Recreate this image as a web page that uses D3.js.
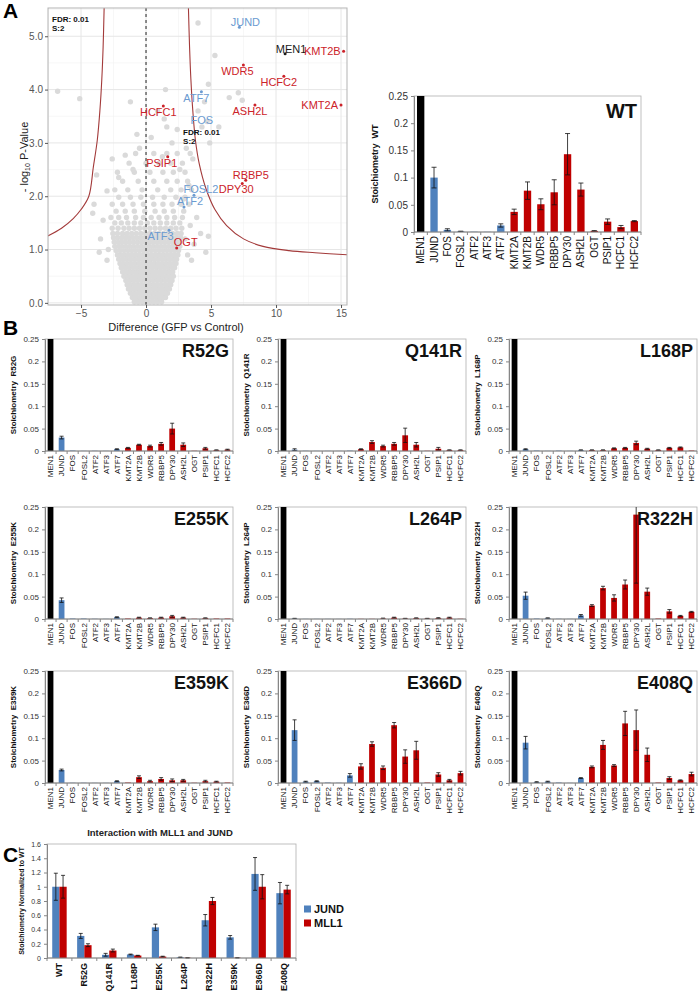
<!DOCTYPE html>
<html><head><meta charset="utf-8">
<script src="https://cdn.jsdelivr.net/npm/d3@7/dist/d3.min.js"></script>
<style>body{margin:0;background:#fff}svg{display:block;font-family:"Liberation Sans",Arial,sans-serif}</style>
</head><body><svg id="c" width="698" height="992"></svg>
<script>
// ---------------- DATA ----------------
const genes = ["MEN1","JUND","FOS","FOSL2","ATF2","ATF3","ATF7","KMT2A","KMT2B","WDR5","RBBP5","DPY30","ASH2L","OGT","PSIP1","HCFC1","HCFC2"];
const geneGroup = ["bait","ap1","ap1","ap1","ap1","ap1","ap1","mll","mll","mll","mll","mll","mll","mll","mll","mll","mll"];
const stoichTicks = [0,0.05,0.1,0.15,0.2,0.25];

const stoichWT  = [1,0.100,0.004,0.001,0.0005,0.0003,0.012,0.037,0.076,0.051,0.073,0.143,0.078,0.002,0.019,0.009,0.020];
const errWT     = [0,0.019,0.002,0.0005,0,0,0.003,0.005,0.016,0.010,0.023,0.038,0.012,0.0005,0.005,0.003,0.001];
const stoichR52G = [1,0.030,0.001,0.0003,0.0005,0.0003,0.004,0.007,0.014,0.011,0.016,0.050,0.014,0.0005,0.006,0.002,0.003];
const errR52G    = [0,0.003,0,0,0,0,0.001,0.001,0.001,0.002,0.003,0.012,0.004,0,0.002,0.0005,0.001];
const stoichQ141R = [1,0.003,0.0005,0.0003,0.0003,0.0002,0.0008,0.004,0.020,0.011,0.016,0.035,0.014,0.0005,0.005,0.002,0.002];
const errQ141R    = [0,0.002,0,0,0,0,0,0.001,0.003,0.002,0.003,0.016,0.005,0,0.003,0.0005,0.0005];
const stoichL168P = [1,0.004,0.001,0.0003,0.0008,0.0003,0.002,0.002,0.002,0.006,0.007,0.018,0.005,0.002,0.007,0.008,0.001];
const errL168P    = [0,0.001,0,0,0,0,0.0005,0.0005,0.0005,0.001,0.001,0.004,0.001,0.0005,0.001,0.001,0];
const stoichE255K = [1,0.042,0.001,0.001,0.0005,0.0003,0.004,0.001,0.003,0.002,0.003,0.006,0.003,0.0005,0.002,0.001,0.001];
const errE255K    = [0,0.005,0,0,0,0,0.001,0,0.001,0.0005,0.001,0.002,0.001,0,0.0005,0,0];
const stoichL264P = [1,0.001,0.0003,0.0003,0.0003,0.0002,0.0005,0.0003,0.0003,0.001,0.003,0.001,0.002,0.001,0.002,0.003,0.0005];
const errL264P    = [0,0.0005,0,0,0,0,0,0,0,0.001,0.001,0.0005,0.0005,0.0005,0.001,0.001,0];
const stoichR322H = [1,0.052,0.001,0.002,0.0005,0.0003,0.008,0.030,0.069,0.047,0.077,0.233,0.061,0.001,0.017,0.007,0.016];
const errR322H    = [0,0.008,0,0.0005,0,0,0.002,0.002,0.004,0.007,0.010,0.153,0.008,0,0.004,0.001,0.001];
const stoichE359K = [1,0.029,0.0005,0.0005,0.0003,0.0003,0.004,0.001,0.013,0.004,0.009,0.006,0.006,0.0005,0.004,0.003,0.001];
const errE359K    = [0,0.002,0,0,0,0,0.001,0,0.003,0.002,0.003,0.003,0.002,0,0.002,0.001,0];
const stoichE366D = [1,0.118,0.003,0.004,0.001,0.0005,0.017,0.037,0.087,0.034,0.129,0.059,0.073,0.001,0.019,0.006,0.022];
const errE366D    = [0,0.023,0.001,0.001,0,0,0.004,0.006,0.005,0.004,0.006,0.015,0.020,0,0.004,0.002,0.004];
const stoichE408Q = [1,0.090,0.002,0.003,0.001,0.0003,0.011,0.036,0.085,0.039,0.133,0.118,0.063,0.001,0.011,0.006,0.020];
const errE408Q    = [0,0.014,0.001,0.001,0,0,0.001,0.002,0.010,0.002,0.027,0.045,0.015,0,0.003,0.001,0.004];

const mutantNames = ["R52G","Q141R","L168P","E255K","L264P","R322H","E359K","E366D","E408Q"];
const mutantVals = [stoichR52G,stoichQ141R,stoichL168P,stoichE255K,stoichL264P,stoichR322H,stoichE359K,stoichE366D,stoichE408Q];
const mutantErrs = [errR52G,errQ141R,errL168P,errE255K,errL264P,errR322H,errE359K,errE366D,errE408Q];

// Panel C
const cCategories = ["WT","R52G","Q141R","L168P","E255K","L264P","R322H","E359K","E366D","E408Q"];
const cSeries = ["JUND","MLL1"];
const normJUND = [1.00,0.31,0.045,0.05,0.43,0.01,0.53,0.29,1.18,0.91];
const errJUND  = [0.19,0.035,0.02,0.005,0.045,0.003,0.08,0.025,0.23,0.15];
const normMLL1 = [1.00,0.18,0.105,0.035,0.02,0.003,0.80,0.003,1.00,0.96];
const errMLL1  = [0.16,0.02,0.02,0.003,0.005,0.001,0.05,0.001,0.17,0.06];
const cTicks = [0,0.2,0.4,0.6,0.8,1,1.2,1.4,1.6];

// Volcano
const volcXTicks = [-5,0,5,10,15];
const volcYTicks = [0,1,2,3,4,5];
const volcNames = ["JUND","MEN1","KMT2B","WDR5","HCFC2","ATF7","HCFC1","ASH2L","KMT2A","FOS","PSIP1","RBBP5","DPY30","FOSL2","ATF2","ATF3","OGT"];
const volcDiff  = [7.18,10.7,15.2,7.49,10.6,4.26,1.33,8.38,15.0,3.75,1.67,7.67,7.40,3.69,2.92,1.77,2.36];
const volcLogP  = [5.17,4.67,4.72,4.46,4.25,3.96,3.69,3.71,3.71,3.20,2.74,2.30,2.24,2.02,1.80,1.36,1.03];
const volcGroup = ["ap1","bait","mll","mll","mll","ap1","mll","mll","mll","ap1","mll","mll","mll","ap1","ap1","ap1","mll"];
const curveLeft  = [[-3.22,5.55],[-3.3,4.8],[-3.4,4.2],[-3.55,3.6],[-3.75,3.05],[-4.05,2.55],[-4.4,2.0],[-5.0,1.75],[-5.6,1.58],[-6.5,1.4],[-7.6,1.25]];
const curveRight = [[3.26,5.55],[3.35,4.8],[3.45,4.2],[3.6,3.6],[3.8,3.05],[4.1,2.6],[4.6,2.15],[5.3,1.75],[6.2,1.45],[7.5,1.2],[9.0,1.06],[11,0.98],[13,0.94],[15.6,0.9]];
const cloudRows = [
 [0.02,[-0.9,-0.6,-0.3,0,0.3,0.6,0.9,1.2]],
 [0.10,[-1.05,-0.75,-0.45,-0.15,0.15,0.45,0.75,1.05,1.35,1.5]],
 [0.18,[-1.2,-0.9,-0.6,-0.3,0,0.3,0.6,0.9,1.2,1.5,1.65]],
 [0.26,[-1.35,-1.05,-0.75,-0.45,-0.15,0.15,0.45,0.75,1.05,1.35,1.65,1.8]],
 [0.34,[-1.45,-1.2,-0.9,-0.6,-0.3,0,0.3,0.6,0.9,1.2,1.5,1.8,1.9]],
 [0.42,[-1.55,-1.25,-0.95,-0.65,-0.35,-0.05,0.25,0.55,0.85,1.15,1.45,1.75,2.0]],
 [0.50,[-1.7,-1.4,-1.1,-0.8,-0.5,-0.2,0.1,0.4,0.7,1.0,1.3,1.6,1.9,2.1]],
 [0.58,[-1.8,-1.55,-1.25,-0.95,-0.65,-0.35,-0.05,0.25,0.55,0.85,1.15,1.45,1.75,2.05]],
 [0.66,[-1.9,-1.6,-1.3,-1.0,-0.7,-0.4,-0.1,0.2,0.5,0.8,1.1,1.4,1.7,2.0,2.2]],
 [0.74,[-2.0,-1.75,-1.45,-1.15,-0.85,-0.55,-0.25,0.05,0.35,0.65,0.95,1.25,1.55,1.85,2.15,2.3]],
 [0.82,[-2.1,-1.8,-1.5,-1.2,-0.9,-0.6,-0.3,0,0.3,0.6,0.9,1.2,1.5,1.8,2.1,2.35]],
 [0.90,[-2.2,-1.95,-1.65,-1.35,-1.05,-0.75,-0.45,-0.15,0.15,0.45,0.75,1.05,1.35,1.65,1.95,2.25,2.45]],
 [0.98,[-2.3,-2.0,-1.7,-1.4,-1.1,-0.8,-0.5,-0.2,0.1,0.4,0.7,1.0,1.3,1.6,1.9,2.2,2.5]],
 [1.06,[-2.4,-2.1,-1.85,-1.55,-1.25,-0.95,-0.65,-0.35,-0.05,0.25,0.55,0.85,1.15,1.45,1.75,2.05,2.35,2.6]],
 [1.14,[-2.45,-2.15,-1.85,-1.55,-1.25,-0.95,-0.65,-0.35,-0.05,0.25,0.55,0.85,1.15,1.45,1.75,2.05,2.35,2.6]],
 [1.22,[-2.5,-2.2,-1.9,-1.6,-1.3,-1.0,-0.7,-0.4,-0.1,0.2,0.5,0.8,1.1,1.4,1.7,2.0,2.3,2.65]],
 [1.30,[-2.55,-2.2,-1.8,-1.45,-1.1,-0.75,-0.4,-0.05,0.3,0.65,1.0,1.35,1.7,2.05,2.4,2.7]],
 [1.40,[-2.6,-2.15,-1.7,-1.3,-0.9,-0.5,-0.1,0.3,0.7,1.1,1.5,1.9,2.3,2.75]],
 [1.50,[-2.4,-1.9,-1.4,-0.9,-0.4,0.1,0.6,1.1,1.6,2.1,2.6]],
 [1.60,[-2.7,-2.1,-1.5,-0.8,-0.2,0.4,1.0,1.6,2.2,2.8]],
 [1.72,[-2.3,-1.6,-0.9,-0.1,0.7,1.4,2.1,2.9]],
 [1.85,[-2.6,-1.8,-1.0,-0.2,0.6,1.3,2.0,2.7,3.3]],
 [1.98,[-2.1,-1.2,-0.4,0.5,1.4,2.3,3.0]],
 [2.12,[-2.4,-1.4,-0.3,0.9,1.9,2.7,3.5]],
 [2.28,[-1.8,-0.6,0.6,1.6,2.4,3.2]],
 [2.45,[-2.2,-0.9,0.3,1.3,2.1,3.0]],
 [2.62,[-1.3,0,1.0,1.9,2.8]],
 [2.80,[-0.8,0.6,1.6,2.4,3.4]]
];
const cloudOutliers = [[-6.8,3.97],[-5.1,3.83],[-1.2,3.77],[1.5,4.0],[4.0,5.25],[5.3,4.64],[4.8,4.1],[6.4,3.85],[7.1,3.94],[7.4,3.8],[4.5,3.77],[4.0,3.6],[-4.0,1.85],[-4.1,1.68],[-3.0,2.1],[-1.6,2.77],[-0.7,3.16],[1.26,2.74],[1.4,3.45],[1.6,3.3],[4.7,3.4],[4.3,3.3],[3.1,2.9],[3.6,2.7],[2.0,3.0],[0.4,3.1],[-0.5,2.9],[-1.0,2.5],[2.6,2.5],[3.3,2.2],[3.9,1.6],[4.2,1.3],[3.7,1.1],[3.5,0.8],[3.2,0.9],[4.6,0.95],[4.8,1.25],[-3.3,1.55],[-3.5,1.2],[-2.9,1.0],[-3.0,0.8],[0.9,3.6],[2.4,3.25],[-2.1,2.35],[-2.6,2.7],[5.6,3.3],[4.9,3.0],[-3.8,2.4],[2.9,1.95],[3.4,1.45],[3.0,1.2],[-3.6,0.95]];

// ---------------- STYLE ----------------
const groupColor = {bait:"#000000", ap1:"#4f81bd", mll:"#c00000"};
const volcColor = {bait:"#1a1a1a", ap1:"#6b9bd1", mll:"#cc2229"};
const volcLabelPos = {
 JUND:[6,-1.5,"middle"], MEN1:[6,-1,"middle"], KMT2B:[-3,4,"end"], WDR5:[-6,10,"middle"], HCFC2:[-5,9.5,"middle"],
 ATF7:[-5,10,"middle"], HCFC1:[-5,10,"middle"], ASH2L:[-5,10,"middle"], KMT2A:[-3,4,"end"], FOS:[7,-8,"middle"],
 PSIP1:[-6,10.6,"middle"], RBBP5:[5,-1,"middle"], DPY30:[-6,10,"middle"], FOSL2:[7,-2,"middle"], ATF2:[6,-2,"middle"],
 ATF3:[-8.5,9.5,"middle"], OGT:[9,-1.5,"middle"]
};

const svg = d3.select("#c");

// ---------------- PANEL A: VOLCANO ----------------
(function(){
  const L=48,R=347,T=8,B=305;
  const x = d3.scaleLinear().domain([-7.54,15.46]).range([L,R]);
  const y = d3.scaleLinear().domain([-0.04,5.53]).range([B,T]);
  const g = svg.append("g");
  g.append("clipPath").attr("id","vclip").append("rect").attr("x",L).attr("y",T).attr("width",R-L).attr("height",B-T);
  const minorX = [-7.5,-2.5,2.5,7.5,12.5], minorY=[0.5,1.5,2.5,3.5,4.5,5.5];
  g.selectAll(".mx").data(minorX).join("line").attr("x1",d=>x(d)).attr("x2",d=>x(d)).attr("y1",T).attr("y2",B).attr("stroke","#f2f2f2").attr("stroke-width",0.6);
  g.selectAll(".my").data(minorY).join("line").attr("y1",d=>y(d)).attr("y2",d=>y(d)).attr("x1",L).attr("x2",R).attr("stroke","#f2f2f2").attr("stroke-width",0.6);
  g.selectAll(".gx").data(volcXTicks).join("line").attr("x1",d=>x(d)).attr("x2",d=>x(d)).attr("y1",T).attr("y2",B).attr("stroke","#e6e6e6").attr("stroke-width",1);
  g.selectAll(".gy").data(volcYTicks).join("line").attr("y1",d=>y(d)).attr("y2",d=>y(d)).attr("x1",L).attr("x2",R).attr("stroke","#e6e6e6").attr("stroke-width",1);
  const pg = g.append("g").attr("clip-path","url(#vclip)");
  const cloud = [];
  cloudRows.forEach(r=>r[1].forEach(v=>cloud.push([v,r[0]])));
  cloudOutliers.forEach(p=>cloud.push(p));
  pg.selectAll(".cp").data(cloud).join("circle").attr("cx",d=>x(d[0])).attr("cy",d=>y(d[1])).attr("r",2.7).attr("fill","#dadada");
  pg.append("line").attr("x1",x(0)).attr("x2",x(0)).attr("y1",T).attr("y2",B).attr("stroke","#222").attr("stroke-width",1).attr("stroke-dasharray","3,3");
  [curveLeft,curveRight].forEach(c=>pg.append("path").attr("d",d3.line().x(d=>x(d[0])).y(d=>y(d[1])).curve(d3.curveCatmullRom)(c)).attr("fill","none").attr("stroke","#a33a3a").attr("stroke-width",1.1));
  const lab = volcNames.map((n,i)=>({n,x:volcDiff[i],y:volcLogP[i],g:volcGroup[i]}));
  pg.selectAll(".lp").data(lab).join("circle").attr("cx",d=>x(d.x)).attr("cy",d=>y(d.y)).attr("r",1.5).attr("fill",d=>volcColor[d.g]);
  pg.selectAll(".lt").data(lab).join("text").attr("x",d=>x(d.x)+volcLabelPos[d.n][0]).attr("y",d=>y(d.y)+volcLabelPos[d.n][1])
    .attr("text-anchor",d=>volcLabelPos[d.n][2]).attr("font-size",11).attr("fill",d=>volcColor[d.g]).text(d=>d.n);
  [[L+4,22],[x(2.85),135]].forEach(p=>{
    const t = g.append("text").attr("x",p[0]).attr("y",p[1]).attr("font-size",8).attr("font-weight","bold").attr("fill","#111");
    t.append("tspan").attr("x",p[0]).text("FDR: 0.01");
    t.append("tspan").attr("x",p[0]).attr("dy",9).text("S:2");
  });
  g.append("rect").attr("x",L).attr("y",T).attr("width",R-L).attr("height",B-T).attr("fill","none").attr("stroke","#b3b3b3").attr("stroke-width",1);
  const ax = g.append("g").attr("transform",`translate(0,${B})`).call(d3.axisBottom(x).tickValues(volcXTicks).tickSize(3).tickPadding(2));
  const ay = g.append("g").attr("transform",`translate(${L},0)`).call(d3.axisLeft(y).tickValues(volcYTicks).tickSize(3).tickPadding(2));
  [ax,ay].forEach(a=>{a.select(".domain").remove();a.selectAll("line").attr("stroke","#555");a.selectAll("text").attr("fill","#555").attr("font-size",10).attr("font-family","Liberation Sans, Arial, sans-serif");});
  g.append("text").attr("x",176).attr("y",331).attr("text-anchor","middle").attr("font-size",11).attr("fill","#222").text("Difference (GFP vs Control)");
  const yl = g.append("text").attr("transform","translate(28,157) rotate(-90)").attr("text-anchor","middle").attr("font-size",11).attr("fill","#222");
  yl.append("tspan").text("- log");
  yl.append("tspan").attr("font-size",7).attr("dy",2).text("10");
  yl.append("tspan").attr("dy",-2).text(" P-Value");
})();

// ---------------- BAR CHART HELPER ----------------
function stoichChart(o){
  const {x0,y0,w,h,vals,errs,title,ylab,tfs,lfs,xfs,ylfs,titleDy,pad,cap,ylx} = o;
  const g = svg.append("g");
  const x = d3.scaleBand().domain(genes).range([x0,x0+w]).paddingInner(pad).paddingOuter(pad/2);
  const y = d3.scaleLinear().domain([0,0.25]).range([y0+h,y0]);
  const id = "clip"+title;
  g.append("clipPath").attr("id",id).append("rect").attr("x",x0).attr("y",y0).attr("width",w).attr("height",h);
  g.append("rect").attr("x",x0).attr("y",y0).attr("width",w).attr("height",h).attr("fill","none").attr("stroke","#b0b0b0").attr("stroke-width",0.8);
  const data = genes.map((n,i)=>({n,v:vals[i],e:errs[i],g:geneGroup[i]}));
  const cg = g.append("g").attr("clip-path",`url(#${id})`);
  cg.selectAll("rect").data(data).join("rect").attr("x",d=>x(d.n)).attr("width",x.bandwidth())
    .attr("y",d=>y(d.v)).attr("height",d=>y(0)-y(d.v)).attr("fill",d=>groupColor[d.g]);
  const eb = data.filter(d=>d.e>0);
  cg.selectAll(".ev").data(eb).join("line").attr("x1",d=>x(d.n)+x.bandwidth()/2).attr("x2",d=>x(d.n)+x.bandwidth()/2)
    .attr("y1",d=>y(d.v-d.e)).attr("y2",d=>y(d.v+d.e)).attr("stroke","#111").attr("stroke-width",0.8);
  ["-","+"].forEach(s=>cg.selectAll(".ec"+(s=="+"?"p":"m")).data(eb).join("line")
    .attr("x1",d=>x(d.n)+x.bandwidth()/2-cap).attr("x2",d=>x(d.n)+x.bandwidth()/2+cap)
    .attr("y1",d=>y(s=="+"?d.v+d.e:d.v-d.e)).attr("y2",d=>y(s=="+"?d.v+d.e:d.v-d.e)).attr("stroke","#111").attr("stroke-width",0.8));
  const ay = g.append("g").attr("transform",`translate(${x0},0)`).call(d3.axisLeft(y).tickValues(stoichTicks).tickSize(3).tickPadding(3).tickFormat(d=>String(+d.toFixed(2))));
  ay.select(".domain").attr("stroke","#868686");
  ay.selectAll("line").attr("stroke","#868686");
  ay.selectAll("text").attr("font-size",tfs).attr("fill","#333").attr("font-family","Liberation Sans, Arial, sans-serif");
  g.append("line").attr("x1",x0).attr("x2",x0+w).attr("y1",y0+h).attr("y2",y0+h).attr("stroke","#868686");
  g.selectAll(".xt").data(d3.range(genes.length+1)).join("line").attr("x1",i=>x0+i*w/genes.length).attr("x2",i=>x0+i*w/genes.length)
    .attr("y1",y0+h).attr("y2",y0+h+3).attr("stroke","#868686");
  g.selectAll(".xl").data(genes).join("text").attr("transform",d=>`translate(${x(d)+x.bandwidth()/2+xfs*0.35},${y0+h+4}) rotate(-90)`)
    .attr("text-anchor","end").attr("font-size",xfs).attr("fill","#111").text(d=>d);
  g.append("text").attr("x",x0+w-4).attr("y",y0+titleDy).attr("text-anchor","end").attr("font-size",lfs).attr("font-weight","bold").attr("fill","#111").text(title);
  g.append("text").attr("transform",`translate(${ylx},${y0+h/2}) rotate(-90)`).attr("text-anchor","middle").attr("font-size",ylfs)
    .attr("font-weight","bold").attr("fill","#111").style("white-space","pre").text("Stoichiometry  "+ylab);
}

stoichChart({x0:414,y0:96,w:227,h:136,vals:stoichWT,errs:errWT,title:"WT",ylab:"WT",tfs:10,lfs:20,xfs:10,ylfs:9,titleDy:22,pad:0.45,cap:2.5,ylx:378});

const colX = [45,278,509], rowY = [339,507,671];
mutantNames.forEach((m,i)=>{
  stoichChart({x0:colX[i%3],y0:rowY[Math.floor(i/3)],w:188,h:112,vals:mutantVals[i],errs:mutantErrs[i],title:m,ylab:m,
    tfs:8,lfs:18,xfs:8,ylfs:8,titleDy:18,pad:0.48,cap:2,ylx:colX[i%3]-29});
});

// ---------------- PANEL C ----------------
(function(){
  const x0=47,y0=844,w=249,h=114;
  const g = svg.append("g");
  const x = d3.scaleBand().domain(cCategories).range([x0,x0+w]).paddingInner(0.42).paddingOuter(0.21);
  const xs = d3.scaleBand().domain(cSeries).range([0,x.bandwidth()]);
  const y = d3.scaleLinear().domain([0,1.6]).range([y0+h,y0]);
  g.append("rect").attr("x",x0).attr("y",y0).attr("width",w).attr("height",h).attr("fill","none").attr("stroke","#b0b0b0").attr("stroke-width",0.8);
  const sv = {JUND:[normJUND,errJUND],MLL1:[normMLL1,errMLL1]};
  const sc = {JUND:"#4f81bd",MLL1:"#c00000"};
  const data = [];
  cCategories.forEach((c,i)=>cSeries.forEach(s=>data.push({c,s,v:sv[s][0][i],e:sv[s][1][i]})));
  g.selectAll(".b").data(data).join("rect").attr("x",d=>x(d.c)+xs(d.s)).attr("width",xs.bandwidth()).attr("y",d=>y(d.v)).attr("height",d=>y(0)-y(d.v)).attr("fill",d=>sc[d.s]);
  const cx = d=>x(d.c)+xs(d.s)+xs.bandwidth()/2;
  g.selectAll(".ev").data(data).join("line").attr("x1",cx).attr("x2",cx).attr("y1",d=>y(d.v-d.e)).attr("y2",d=>y(d.v+d.e)).attr("stroke","#111").attr("stroke-width",0.8);
  [1,-1].forEach(s=>g.selectAll(".c"+s).data(data).join("line").attr("x1",d=>cx(d)-2).attr("x2",d=>cx(d)+2).attr("y1",d=>y(d.v+s*d.e)).attr("y2",d=>y(d.v+s*d.e)).attr("stroke","#111").attr("stroke-width",0.8));
  const ay = g.append("g").attr("transform",`translate(${x0},0)`).call(d3.axisLeft(y).tickValues(cTicks).tickSize(3).tickPadding(3).tickFormat(d=>String(+d.toFixed(1))));
  ay.select(".domain").attr("stroke","#868686"); ay.selectAll("line").attr("stroke","#868686");
  ay.selectAll("text").attr("font-size",7).attr("fill","#333").attr("font-family","Liberation Sans, Arial, sans-serif");
  g.append("line").attr("x1",x0).attr("x2",x0+w).attr("y1",y0+h).attr("y2",y0+h).attr("stroke","#868686");
  g.selectAll(".xt").data(d3.range(cCategories.length+1)).join("line").attr("x1",i=>x0+i*w/cCategories.length).attr("x2",i=>x0+i*w/cCategories.length).attr("y1",y0+h).attr("y2",y0+h+3).attr("stroke","#868686");
  g.selectAll(".xl").data(cCategories).join("text").attr("transform",d=>`translate(${x(d)+x.bandwidth()/2+3},${y0+h+5}) rotate(-90)`)
    .attr("text-anchor","end").attr("font-size",9).attr("font-weight","bold").attr("fill","#111").text(d=>d);
  g.append("text").attr("x",160).attr("y",836).attr("text-anchor","middle").attr("font-size",9.5).attr("font-weight","bold").attr("fill","#222").text("Interaction with MLL1 and JUND");
  g.append("text").attr("transform",`translate(24,${y0+h/2}) rotate(-90)`).attr("text-anchor","middle").attr("font-size",7).attr("font-weight","bold").attr("fill","#111").text("Stoichiometry Normalized to WT");
  const lg = g.selectAll(".lg").data(cSeries).join("g").attr("transform",(d,i)=>`translate(304,${909+i*14})`);
  lg.append("rect").attr("x",0).attr("y",-3.5).attr("width",7).attr("height",7).attr("fill",d=>sc[d]);
  lg.append("text").attr("x",10).attr("y",4).attr("font-size",11).attr("font-weight","bold").attr("fill","#111").text(d=>d);
})();

[["A",3,18],["B",3,335],["C",3,862]].forEach(p=>svg.append("text").attr("x",p[1]).attr("y",p[2]).attr("font-size",21).attr("font-weight","bold").attr("fill","#000").text(p[0]));
</script></body></html>
